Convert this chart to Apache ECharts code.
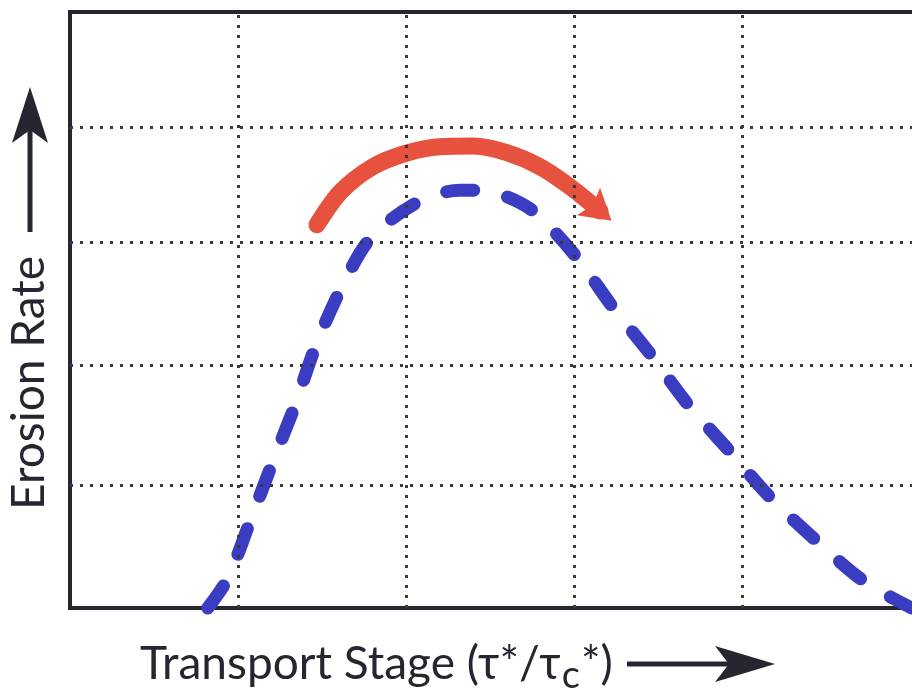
<!DOCTYPE html>
<html>
<head>
<meta charset="utf-8">
<script src="https://cdn.jsdelivr.net/npm/echarts@6/dist/echarts.min.js"></script>
<style>
    html,body{margin:0;padding:0;background:#fff;}
    #main{width:912px;height:694px;}
</style>
</head>
<body>
<div id="main"></div>
<script>
    // 蓝色虚线: 输运阶段 vs 侵蚀速率 (任意单位)
    var stageX = [0.82, 0.94, 1.07, 1.2, 1.34, 1.46, 1.61, 1.79, 2.07, 2.32, 2.43, 2.6, 2.77, 3.02, 3.23, 3.46, 3.68, 3.93, 4.17, 4.45, 4.73, 5.01];
    var erosionY = [0, 5, 14.4, 24, 34.1, 43.8, 53.4, 62.1, 68.1, 70.1, 70.1, 69, 66.3, 58.7, 50.5, 42.4, 34.1, 26.2, 18.5, 11.1, 4.4, 0];
    // 红色弧形箭头
    var arcX = [1.47, 1.61, 1.8, 2.0, 2.2, 2.4, 2.6, 2.8, 2.98, 3.155];
    var arcY = [64.3, 69.8, 74.0, 76.3, 77.4, 77.5, 76.4, 74.0, 70.6, 66.6];
    // 网格线 (横线不等距)
    var xGridLines = [1, 2, 3, 4];
    var yGridLines = [20.6, 40.8, 61.4, 80.7];

    var blue = '#3a3dc2';
    var red = '#e6523e';
    var ink = '#262630';
    var dots = {color: '#3a3a3a', width: 3, type: [3, 7]};
    var pxPerStage = 168;

    var curveData = stageX.map(function (x, i) { return [x, erosionY[i]]; });
    var arcData = arcX.map(function (x, i) { return [x, arcY[i]]; });
    var last = arcData.pop();
    // 箭头头部: 浅缺口的三角
    arcData.push({
        value: last,
        symbol: 'path://M5,0 L10,10 L5,8.2 L0,10 Z',
        symbolSize: [36, 30],
        symbolRotate: -130
    });

    // 横轴标题分三段, 先量宽度, 下标c往下挪
    var titleFont = '46px Lato';
    var subFont = '38px Lato';
    var part1 = 'Transport Stage (τ*/τ', part2 = 'c', part3 = '*)';
    var ctx = document.createElement('canvas').getContext('2d');
    ctx.font = titleFont;
    var w1 = ctx.measureText(part1).width;
    ctx.font = subFont;
    var w2 = ctx.measureText(part2).width;
    var titleX = 140, titleMid = 664;

    var myChart = echarts.init(document.getElementById('main'));
    var option = {
        animation: false,
        grid: {left: 70, top: 12, width: 850, height: 596, outerBoundsMode: 'none'},
        xAxis: [{
            type: 'value', min: 0, max: 850 / pxPerStage,
            axisLine: {show: true, lineStyle: {color: ink, width: 4, cap: 'square'}},
            axisTick: {show: false}, axisLabel: {show: false}, splitLine: {show: false}
        }, {
            type: 'value', position: 'top', min: 0, max: 850 / pxPerStage,
            axisLine: {show: true, lineStyle: {color: ink, width: 4, cap: 'square'}},
            axisTick: {show: false}, axisLabel: {show: false}, splitLine: {show: false}
        }],
        yAxis: {
            type: 'value', min: 0, max: 100,
            axisLine: {show: true, lineStyle: {color: ink, width: 4, cap: 'square'}},
            axisTick: {show: false}, axisLabel: {show: false}, splitLine: {show: false}
        },
        series: [
            {
                // 网格线
                type: 'line', data: [], z: 1, silent: true,
                markLine: {
                    silent: true, symbol: 'none', label: {show: false},
                    lineStyle: dots,
                    data: xGridLines.map(function (v) { return {xAxis: v}; })
                        .concat(yGridLines.map(function (v) { return {yAxis: v}; }))
                }
            },
            {
                type: 'line', data: curveData, z: 3, smooth: 0.3, symbol: 'none',
                clip: false, silent: true,
                lineStyle: {color: blue, width: 13, type: [27, 35], cap: 'round', join: 'round'}
            },
            {
                type: 'line', data: arcData, z: 4, smooth: 0.3, symbol: 'none', showSymbol: true,
                clip: false, silent: true,
                itemStyle: {color: red, borderWidth: 0},
                lineStyle: {color: red, width: 17, cap: 'round', join: 'round'}
            }
        ],
        graphic: [
            {
                type: 'text', x: 29, y: 383, rotation: Math.PI / 2,
                style: {text: 'Erosion Rate', font: titleFont, fill: ink, align: 'center', verticalAlign: 'middle'}
            },
            {type: 'line', shape: {x1: 30, y1: 232, x2: 30, y2: 125}, style: {stroke: ink, lineWidth: 5}},
            {type: 'polygon', shape: {points: [[30, 87], [48, 143], [30, 130], [12, 143]]}, style: {fill: ink}},
            {
                type: 'text', x: titleX, y: titleMid,
                style: {text: part1, font: titleFont, fill: ink, align: 'left', verticalAlign: 'middle'}
            },
            {
                type: 'text', x: titleX + w1 + 1, y: titleMid + 12,
                style: {text: part2, font: subFont, fill: ink, align: 'left', verticalAlign: 'middle'}
            },
            {
                type: 'text', x: titleX + w1 + w2 + 2, y: titleMid,
                style: {text: part3, font: titleFont, fill: ink, align: 'left', verticalAlign: 'middle'}
            },
            {type: 'line', shape: {x1: 627, y1: 664, x2: 735, y2: 664}, style: {stroke: ink, lineWidth: 5}},
            {type: 'polygon', shape: {points: [[775, 664], [715, 682], [729, 664], [715, 646]]}, style: {fill: ink}}
        ]
    };
    myChart.setOption(option);
</script>
</body>
</html>
